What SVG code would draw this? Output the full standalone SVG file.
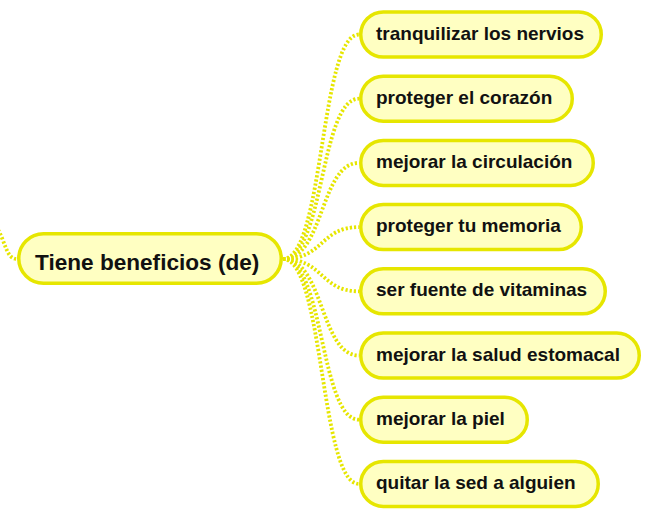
<svg xmlns="http://www.w3.org/2000/svg" width="649" height="510" viewBox="0 0 649 510">
<style>
.node rect{fill:#ffffc2;stroke:#e6e600;stroke-width:3.5}
.node text{font-family:"Liberation Sans",Arial,sans-serif;font-weight:bold;fill:#111;font-size:19px}
#central text{font-size:22.6px}
#connectors path{fill:none;stroke:#e6e600;stroke-width:3.8;stroke-dasharray:2.2 2}
</style>
<rect width="649" height="510" fill="#fff"/>
<g id="connectors">
<path d="M-4 226 C6 242 6 259 17 259"/>
<path d="M283 259 C324 259 320 34.5 359 34.5"/>
<path d="M283 259 C324 259 320 98.7 359 98.7"/>
<path d="M283 259 C324 259 320 162.9 359 162.9"/>
<path d="M283 259 C324 259 320 227.1 359 227.1"/>
<path d="M283 259 C324 259 320 291.3 359 291.3"/>
<path d="M283 259 C324 259 320 355.5 359 355.5"/>
<path d="M283 259 C324 259 320 419.7 359 419.7"/>
<path d="M283 259 C324 259 320 483.9 359 483.9"/>
</g>
<g id="central" class="node"><rect x="18.75" y="233.75" width="262.5" height="49.5" rx="24.75"/><text x="35" y="270">Tiene beneficios (de)</text></g>
<g id="n1" class="node"><rect x="360.75" y="12" width="240.5" height="45" rx="22.5"/><text x="376" y="39.5">tranquilizar los nervios</text></g>
<g id="n2" class="node"><rect x="360.75" y="76.2" width="211.5" height="45" rx="22.5"/><text x="376" y="103.7">proteger el corazón</text></g>
<g id="n3" class="node"><rect x="360.75" y="140.4" width="232.5" height="45" rx="22.5"/><text x="376" y="167.9">mejorar la circulación</text></g>
<g id="n4" class="node"><rect x="360.75" y="204.6" width="220.5" height="45" rx="22.5"/><text x="376" y="232.1">proteger tu memoria</text></g>
<g id="n5" class="node"><rect x="360.75" y="268.8" width="244.5" height="45" rx="22.5"/><text x="376" y="296.3">ser fuente de vitaminas</text></g>
<g id="n6" class="node"><rect x="360.75" y="333" width="278.5" height="45" rx="22.5"/><text x="376" y="360.5">mejorar la salud estomacal</text></g>
<g id="n7" class="node"><rect x="360.75" y="397.2" width="166.5" height="45" rx="22.5"/><text x="376" y="424.7">mejorar la piel</text></g>
<g id="n8" class="node"><rect x="360.75" y="461.4" width="237.5" height="45" rx="22.5"/><text x="376" y="488.9">quitar la sed a alguien</text></g>
</svg>
